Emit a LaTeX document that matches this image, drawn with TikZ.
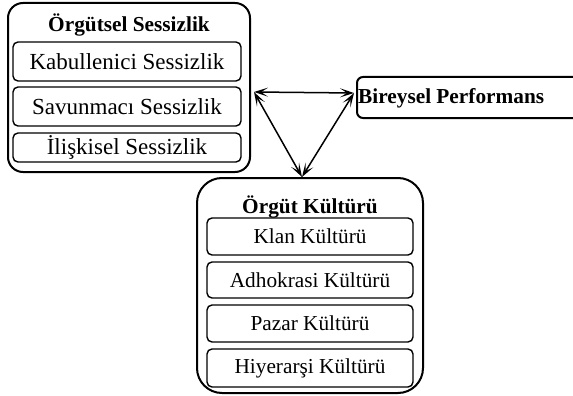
\documentclass[tikz,border=0pt]{standalone}
\usepackage{fontspec}
\setmainfont{Liberation Serif}
\usetikzlibrary{arrows.meta}
\begin{document}
\begin{tikzpicture}[x=1pt,y=-1pt,
  outer/.style={draw, line width=2pt, rounded corners=#1, inner sep=0pt},
  inner/.style={draw, line width=1.4pt, rounded corners=5pt, inner sep=0pt},
  ttl/.style={font=\fontsize{21.3}{25}\selectfont\bfseries, inner sep=0pt},
  sil/.style={font=\fontsize{23}{27}\selectfont, inner sep=0pt},
  cul/.style={font=\fontsize{21.3}{25}\selectfont, inner sep=0pt},
  link/.style={line width=1.5pt, {Stealth[length=14pt,width=9pt,inset=7pt]}-{Stealth[length=14pt,width=9pt,inset=7pt]}}]
\useasboundingbox (0,0) rectangle (573,396);
\clip (0,0) rectangle (573,396);
% Orgutsel Sessizlik
\node[outer=15pt, minimum width=242pt, minimum height=169pt] (silbox) at (129,87.5) {};
\node[ttl] (silttl) at (129,25) {Örgütsel Sessizlik};
\node[inner, minimum width=228pt, minimum height=39pt] (s1box) at (127,61.5) {};
\node[sil] (s1) at (s1box) {Kabullenici Sessizlik};
\node[inner, minimum width=228pt, minimum height=39pt] (s2box) at (127,106.5) {};
\node[sil] (s2) at (s2box) {Savunmacı Sessizlik};
\node[inner, minimum width=228pt, minimum height=29pt] (s3box) at (127,147.5) {};
\node[sil] (s3) at (s3box) {İlişkisel Sessizlik};
% Bireysel Performans
\node[outer=6pt, minimum width=230pt, minimum height=41pt, anchor=north west] (perf) at (356,76) {};
\node[ttl, anchor=west] (perft) at (358,98) {Bireysel Performans};
% Orgut Kulturu
\node[outer=25pt, minimum width=226pt, minimum height=215pt] (culbox) at (310,285.5) {};
\node[ttl] (cult) at (310,207) {Örgüt Kültürü};
\node[inner, minimum width=206pt, minimum height=37pt] (c1box) at (310,236.5) {};
\node[cul] (c1) at (c1box) {Klan Kültürü};
\node[inner, minimum width=206pt, minimum height=36pt] (c2box) at (310,280) {};
\node[cul] (c2) at (c2box) {Adhokrasi Kültürü};
\node[inner, minimum width=206pt, minimum height=37pt] (c3box) at (310,323.5) {};
\node[cul] (c3) at (c3box) {Pazar Kültürü};
\node[inner, minimum width=206pt, minimum height=38pt] (c4box) at (310,368) {};
\node[cul] (c4) at (c4box) {Hiyerarşi Kültürü};
% arrows
\coordinate (pA) at (254,92);
\coordinate (pB) at (354,93);
\coordinate (pC) at (302,177);
\draw[link] (pA) -- (pB);
\draw[link] (pA) -- (pC);
\draw[link] (pB) -- (pC);
\end{tikzpicture}
\end{document}
